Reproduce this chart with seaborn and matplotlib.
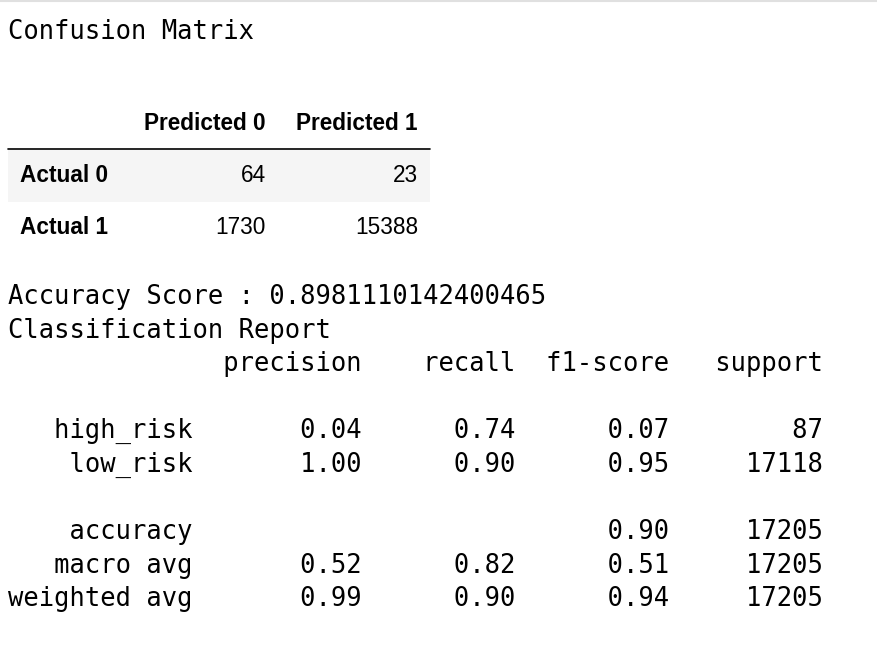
import matplotlib
matplotlib.use("Agg")
import matplotlib.pyplot as plt
import seaborn as sns
import pandas as pd

# Confusion matrix data
col_labels = ["Predicted 0", "Predicted 1"]
row_labels = ["Actual 0", "Actual 1"]
cm_values = [[64, 23], [1730, 15388]]

accuracy = 0.8981110142400465

# Classification report data
report_headers = ["precision", "recall", "f1-score", "support"]
class_names = ["high_risk", "low_risk"]
precision = [0.04, 1.00]
recall = [0.74, 0.90]
f1 = [0.07, 0.95]
support = [87, 17118]
avg_names = ["macro avg", "weighted avg"]
avg_precision = [0.52, 0.99]
avg_recall = [0.82, 0.90]
avg_f1 = [0.51, 0.94]
acc_f1 = 0.90
total_support = 17205

cm = pd.DataFrame(cm_values, index=row_labels, columns=col_labels)

sns.set_theme(style="white")
fig = plt.figure(figsize=(8.78, 6.62), dpi=100)
ax = fig.add_axes([0, 0, 1, 1])
ax.set_xlim(0, 878)
ax.set_ylim(662, 0)
ax.axis("off")

mono = dict(family="DejaVu Sans Mono", fontsize=18.4, color="black", va="center", ha="left")
sans = dict(family="Liberation Sans", fontsize=16.3, color="black", va="center")

ax.axhline(1, color="#e0e0e0", lw=1.5)
ax.text(8, 32, "Confusion Matrix", **mono)

# Table
col_x = [266, 418]
ax.axhspan(150, 202, xmin=8 / 878, xmax=430 / 878, color="#f5f5f5", lw=0)
ax.plot([8, 430], [149, 149], color="black", lw=1.2)
for x, c in zip(col_x, cm.columns):
    ax.text(x, 123, c, ha="right", weight="bold", **sans)
for y, r in zip([176, 228], cm.index):
    ax.text(20, y, r, ha="left", weight="bold", **sans)
    for x, c in zip(col_x, cm.columns):
        ax.text(x, y, str(cm.loc[r, c]), ha="right", **sans)

# Report text (sklearn layout)
w = 12
lines = ["Accuracy Score : " + repr(accuracy), "Classification Report"]
lines.append(("{:>%ds} " % w).format("") + "".join(" {:>9}".format(h) for h in report_headers))
lines.append("")
for n, p, r, f, s in zip(class_names, precision, recall, f1, support):
    lines.append(("{:>%ds} " % w).format(n) + " {:>9.2f} {:>9.2f} {:>9.2f} {:>9}".format(p, r, f, s))
lines.append("")
lines.append(("{:>%ds} " % w).format("accuracy") + " {:>9} {:>9} {:>9.2f} {:>9}".format("", "", acc_f1, total_support))
for n, p, r, f in zip(avg_names, avg_precision, avg_recall, avg_f1):
    lines.append(("{:>%ds} " % w).format(n) + " {:>9.2f} {:>9.2f} {:>9.2f} {:>9}".format(p, r, f, total_support))

y0 = 297
for i, line in enumerate(lines):
    if line:
        ax.text(8, y0 + i * 33.6, line, **mono)

fig.savefig("out.png", dpi=100)
